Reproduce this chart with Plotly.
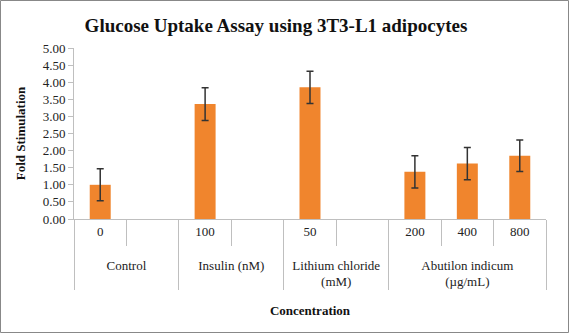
import plotly.graph_objects as go

groups = ["Control", "Control", "Insulin (nM)", "Insulin (nM)",
          "Lithium chloride<br>(mM)", "Lithium chloride<br>(mM)",
          "Abutilon indicum<br>(µg/mL)", "Abutilon indicum<br>(µg/mL)", "Abutilon indicum<br>(µg/mL)"]
concentrations = ["0", "\u00a0", "100", "\u00a0\u00a0", "50", "\u00a0\u00a0\u00a0", "200", "400", "800"]
fold_stimulation = [1.00, None, 3.36, None, 3.85, None, 1.38, 1.62, 1.85]
error = [0.47, None, 0.48, None, 0.47, None, 0.47, 0.47, 0.46]

W, H = 569, 333
ml, mr, mt, mb = 74, 23, 48, 114

# leading line break pushes the group labels a row lower, as in the reference
group_labels = ["<br>" + g for g in groups]

fig = go.Figure(go.Bar(
    x=[group_labels, concentrations],
    y=fold_stimulation,
    marker=dict(color="#F0852D", line=dict(width=0)),
    error_y=dict(type="data", array=error, visible=True, color="#333333",
                 thickness=1.5, width=3.5),
    width=0.4,
))

font = "Liberation Serif"
fig.update_layout(
    width=W, height=H,
    margin=dict(l=ml, r=mr, t=mt, b=mb),
    plot_bgcolor="white", paper_bgcolor="white",
    font=dict(family=font, size=13, color="#222"),
    title=dict(text="<b>Glucose Uptake Assay using 3T3-L1 adipocytes</b>",
               x=0.485, xanchor="center", y=0.925, yanchor="middle",
               font=dict(family=font, size=19, color="#111")),
    showlegend=False,
    xaxis=dict(type="multicategory", showline=True, linecolor="#BFBFBF", linewidth=1,
               ticks="outside", ticklen=26, tickcolor="#BFBFBF", tickson="boundaries",
               showdividers=True, dividercolor="#BFBFBF", dividerwidth=1,
               tickfont=dict(family=font, size=13, color="#222"),
               title=dict(text="<b>Concentration</b>", standoff=17,
                          font=dict(family=font, size=13, color="#111")),
               showgrid=False),
    yaxis=dict(range=[0, 5], dtick=0.5, tickformat=".2f", showline=True,
               linecolor="#BFBFBF", linewidth=1, ticks="outside", ticklen=5,
               tickcolor="#BFBFBF", showgrid=False, zeroline=False,
               tickfont=dict(family=font, size=13, color="#222"),
               title=dict(text="<b>Fold Stimulation</b>", standoff=14,
                          font=dict(family=font, size=13, color="#111"))),
)

pw, ph = W - ml - mr, H - mt - mb
fig.add_shape(type="rect", xref="paper", yref="paper",
              x0=(-ml + 0.5) / pw, x1=(W - ml - 0.5) / pw,
              y0=(-mb + 0.5) / ph, y1=(H - mb - 0.5) / ph,
              line=dict(color="#888888", width=1), layer="below")

fig.write_html("out.html")
